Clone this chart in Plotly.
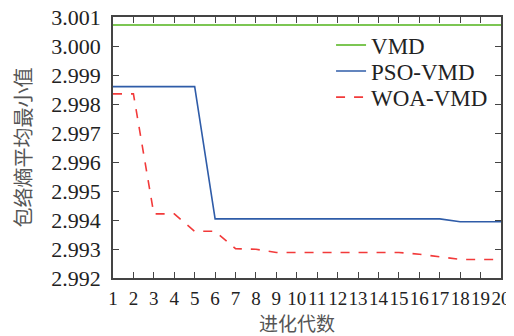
import plotly.graph_objects as go

generations = list(range(1, 21))
vmd = [3.00072] * 20
pso_vmd = [2.99860, 2.99860, 2.99860, 2.99860, 2.99860, 2.99404, 2.99404, 2.99404, 2.99404, 2.99404,
           2.99404, 2.99404, 2.99404, 2.99404, 2.99404, 2.99404, 2.99404, 2.99394, 2.99394, 2.99394]
woa_vmd = [2.99835, 2.99835, 2.99421, 2.99421, 2.99361, 2.99361, 2.99301, 2.99299, 2.99288, 2.99288,
           2.99288, 2.99288, 2.99288, 2.99288, 2.99288, 2.99282, 2.99274, 2.99264, 2.99264, 2.99264]
x_title = "进化代数"
y_title = "包络熵平均最小值"

serif = "Liberation Serif"
cjk = "Noto Sans CJK SC"

fig = go.Figure()
fig.add_trace(go.Scatter(x=generations, y=vmd, mode="lines", name="VMD", legend="legend",
                         line=dict(color="#7cc653", width=2)))
fig.add_trace(go.Scatter(x=generations, y=pso_vmd, mode="lines", name="PSO-VMD", legend="legend2",
                         line=dict(color="#2f5ca8", width=1.6)))
fig.add_trace(go.Scatter(x=generations, y=woa_vmd, mode="lines", name="WOA-VMD", legend="legend3",
                         line=dict(color="#f23a3a", width=1.6, dash="dash")))

axis_common = dict(showline=True, linecolor="#444", linewidth=1.5, mirror="ticks",
                   ticks="inside", ticklen=6, tickcolor="#444", tickwidth=1.2,
                   showgrid=False, zeroline=False, automargin=False,
                   ticklabeloverflow="allow")

leg_common = dict(xanchor="left", yanchor="middle", bgcolor="rgba(0,0,0,0)",
                  font=dict(family=serif, size=23, color="#222"))

# page body has an 8px default margin, so the figure is drawn 8px smaller
fig.update_layout(
    width=506, height=328,
    margin=dict(l=105, r=13, t=9, b=58),
    font=dict(family=serif, color="#222"),
    paper_bgcolor="white", plot_bgcolor="white",
    showlegend=True,
    legend=dict(x=0.562, y=0.893, **leg_common),
    legend2=dict(x=0.562, y=0.793, **leg_common),
    legend3=dict(x=0.562, y=0.693, **leg_common),
    xaxis=dict(range=[1, 20], dtick=1, tick0=1, tickangle=0, ticklabelstandoff=2,
               tickfont=dict(family=serif, size=19, color="#222"), **axis_common),
    yaxis=dict(range=[2.992, 3.001], dtick=0.001, tick0=2.992, tickformat=".3f",
               ticklabelstandoff=6,
               tickfont=dict(family=serif, size=22, color="#222"),
               title=dict(text=y_title, standoff=14,
                          font=dict(family=cjk, size=20, color="#555")), **axis_common),
)
fig.add_annotation(text=x_title, xref="paper", yref="paper", x=0.474, y=-0.172,
                   xanchor="center", yanchor="middle", showarrow=False,
                   font=dict(family=cjk, size=19, color="#555"))
fig.write_html("out.html")
